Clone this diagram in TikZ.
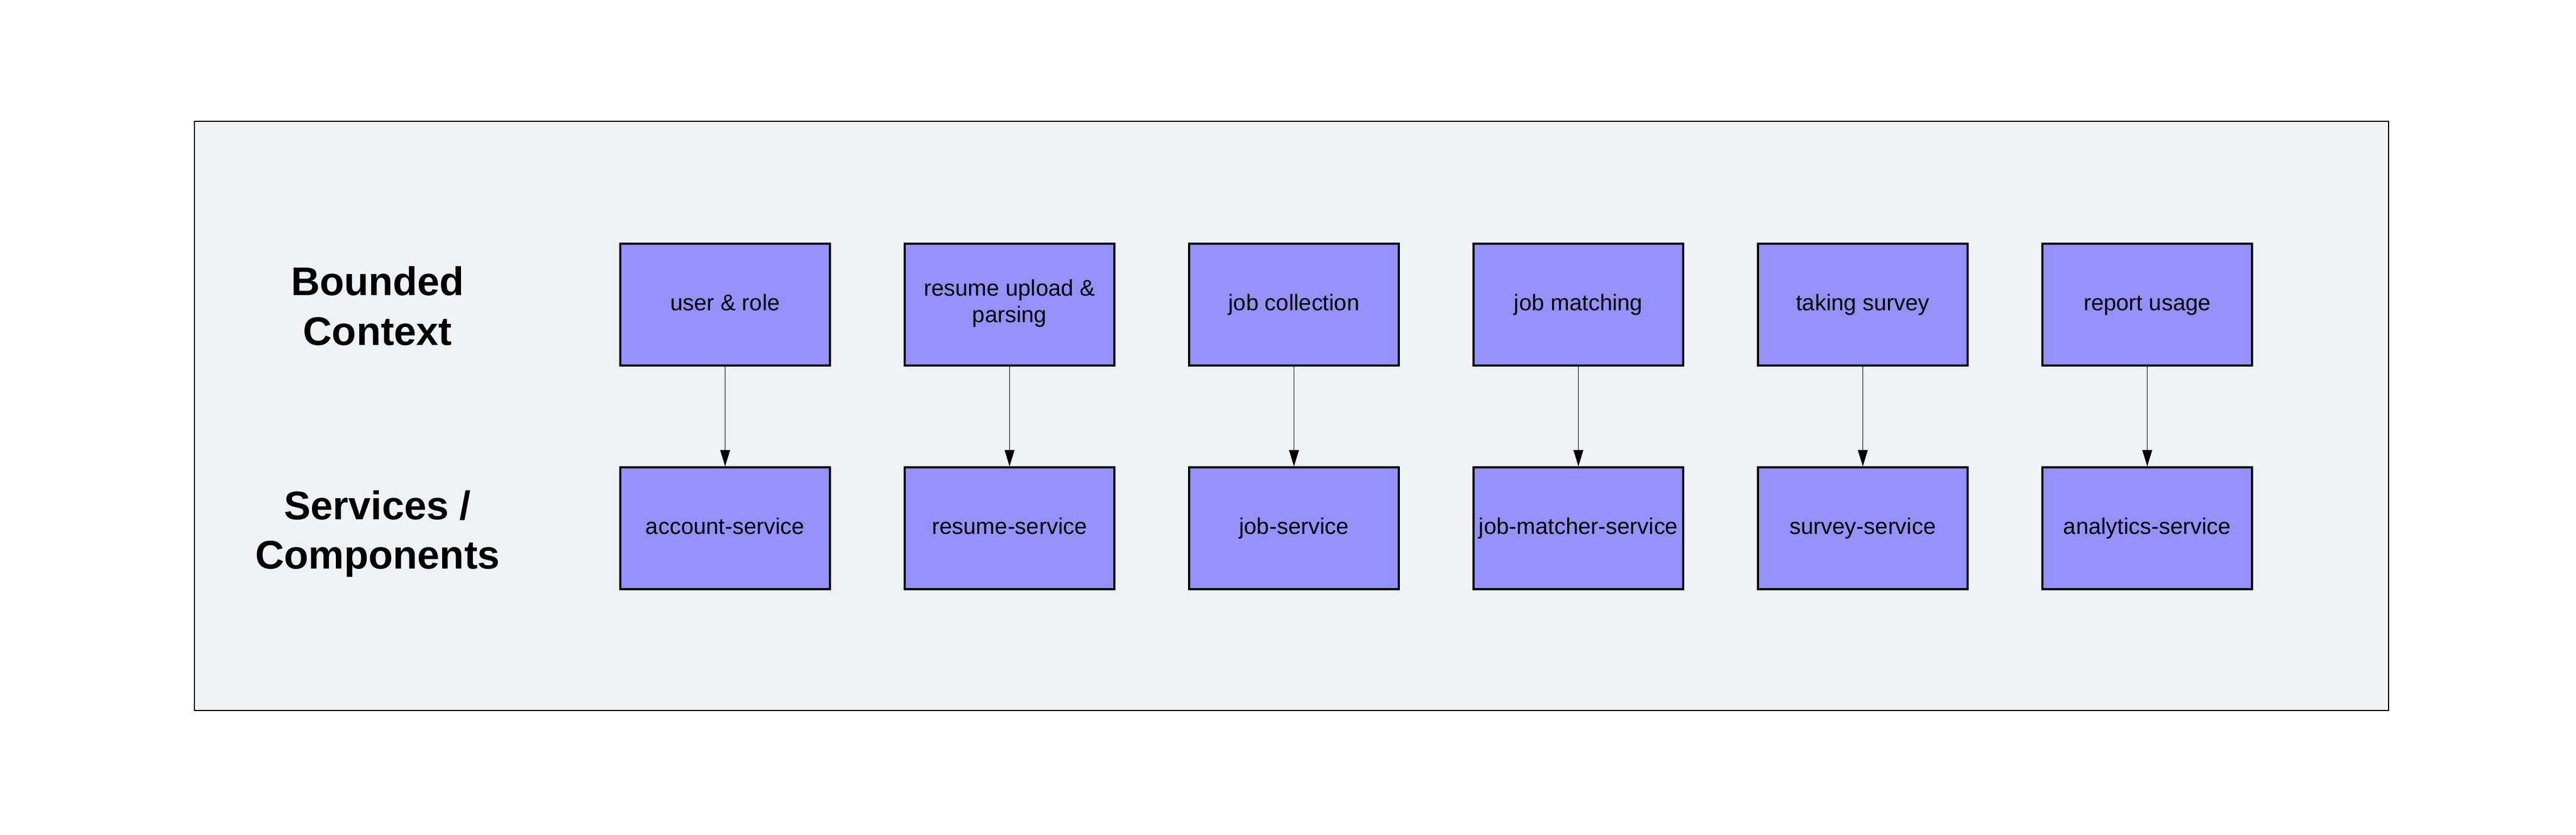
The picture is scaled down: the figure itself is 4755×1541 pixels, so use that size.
\documentclass[tikz,border=0pt]{standalone}
\usepackage{fontspec}
\setmainfont{Liberation Sans}
\usetikzlibrary{arrows.meta}
\definecolor{boxfill}{RGB}{149,145,255}
\definecolor{panelfill}{RGB}{241,242,244}
\tikzset{
    ctxbox/.style={draw, line width=1pt, fill=boxfill, minimum width=3.87cm, minimum height=2.25cm, inner sep=0pt, align=center, text height=10.7pt, text depth=4.2pt, font=\fontsize{11.9}{14}\selectfont},
    rowlabel/.style={align=center, font=\bfseries\fontsize{21}{26}\selectfont},
    maparrow/.style={-{Triangle[length=0.3cm, width=0.18cm]}, line width=0.45pt}
}
\begin{document}
\begin{tikzpicture}[x=0.01cm, y=-0.01cm]
    \useasboundingbox (0,0) rectangle (4755,1541);
    % Draw the grey panel behind everything
    \draw[fill=panelfill, line width=0.8pt] (359,224) rectangle (4409,1312);

    % Row labels on the left
    \node[rowlabel] (bclabel) at (697,565) {Bounded\\Context};
    \node[rowlabel] (svclabel) at (697,986) {Services /\\Components};

    % Bounded contexts in the top row
    \node[ctxbox] (user) at (1338.5,562.5) {user \& role};
    \node[ctxbox, text height=24.7pt, text depth=5.9pt] (resume) at (1863.5,562.5) {resume upload \&\\parsing};
    \node[ctxbox] (collect) at (2388.5,562.5) {job collection};
    \node[ctxbox] (match) at (2913.5,562.5) {job matching};
    \node[ctxbox] (survey) at (3438.5,562.5) {taking survey};
    \node[ctxbox] (report) at (3963.5,562.5) {report usage};

    % Services in the bottom row
    \node[ctxbox] (accountsvc) at (1338.5,975.5) {account-service};
    \node[ctxbox] (resumesvc) at (1863.5,975.5) {resume-service};
    \node[ctxbox] (jobsvc) at (2388.5,975.5) {job-service};
    \node[ctxbox] (matchersvc) at (2913.5,975.5) {job-matcher-service};
    \node[ctxbox] (surveysvc) at (3438.5,975.5) {survey-service};
    \node[ctxbox] (analyticssvc) at (3963.5,975.5) {analytics-service};

    % Draw the arrows from each context down to its service
    \draw[maparrow] (user) -- (accountsvc);
    \draw[maparrow] (resume) -- (resumesvc);
    \draw[maparrow] (collect) -- (jobsvc);
    \draw[maparrow] (match) -- (matchersvc);
    \draw[maparrow] (survey) -- (surveysvc);
    \draw[maparrow] (report) -- (analyticssvc);
\end{tikzpicture}
\end{document}
